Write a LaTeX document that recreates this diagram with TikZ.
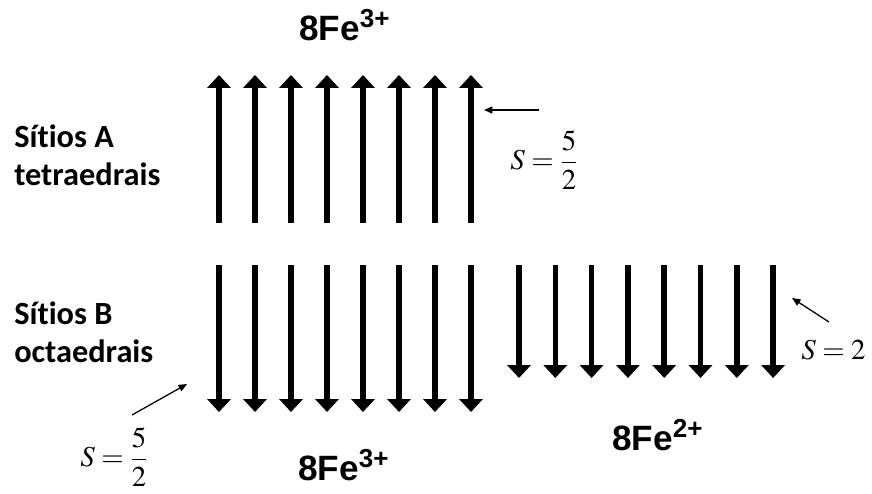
\documentclass[tikz,border=0pt]{standalone}
\usepackage{amsmath}
\usepackage{mathptmx}
\usepackage{fontspec}
\newfontfamily\sitefont[Ligatures=NoCommon]{Carlito}
\newfontfamily\ionfont{Liberation Sans}
\usetikzlibrary{arrows.meta}

\begin{document}
\begin{tikzpicture}[
	x=0.025cm, y=-0.025cm,
	site/.style={
		font=\sitefont\bfseries\fontsize{23}{27}\selectfont,
		align=left, inner sep=0pt
	},
	ion/.style={
		font=\ionfont\bfseries\fontsize{25}{30}\selectfont,
		inner sep=0pt
	},
	spinlbl/.style={
		font=\fontsize{20.5}{24}\selectfont,
		inner sep=0pt
	},
	spin/.style={
		line width=3.9pt,
		-{Triangle[length=9.2pt, width=16.4pt]}
	},
	ptr/.style={
		line width=0.9pt,
		-{Triangle[length=6pt, width=5pt]}
	}
]
\useasboundingbox (0,0) rectangle (872,493);

% Site labels, left column
\node[site, anchor=west] (sitA) at (14,155) {Sít\kern0pt{}ios A\\tetraedrais};
\node[site, anchor=west] (sitB) at (14,332) {Sít\kern0pt{}ios B\\octaedrais};

% Ion counts
\node[ion, anchor=base west] (feA)  at (299,40)  {8Fe\textsuperscript{3+}};
\node[ion, anchor=base west] (feB)  at (298,480) {8Fe\textsuperscript{3+}};
\node[ion, anchor=base west] (feB2) at (612,450) {8Fe\textsuperscript{2+}};

% Spins, A sites (up)
\foreach \i in {0,...,7}
	\draw[spin] ({219+36*\i},223) -- ({219+36*\i},75);

% Spins, B sites Fe3+ (down)
\foreach \i in {0,...,7}
	\draw[spin] ({219+36*\i},265) -- ({219+36*\i},412);

% Spins, B sites Fe2+ (down, shorter)
\foreach \i in {0,...,7}
	\draw[spin] ({519+36.3*\i},265) -- ({519+36.3*\i},378);

% Spin values
\node[spinlbl, anchor=west] (sA) at (510,160) {$S=\dfrac{5}{2}$};
\node[spinlbl, anchor=west] (sB) at (80,457) {$S=\dfrac{5}{2}$};
\node[spinlbl, anchor=base west] (sB2) at (801,359) {$S=2$};

\coordinate (tailA)  at (539,110);
\coordinate (tipA)   at (484,110);
\coordinate (tailB)  at (132,415);
\coordinate (tipB)   at (187,384);
\coordinate (tailB2) at (829,322);
\coordinate (tipB2)  at (792,298);

\draw[ptr] (tailA) -- (tipA);
\draw[ptr] (tailB) -- (tipB);
\draw[ptr] (tailB2) -- (tipB2);

\end{tikzpicture}
\end{document}
